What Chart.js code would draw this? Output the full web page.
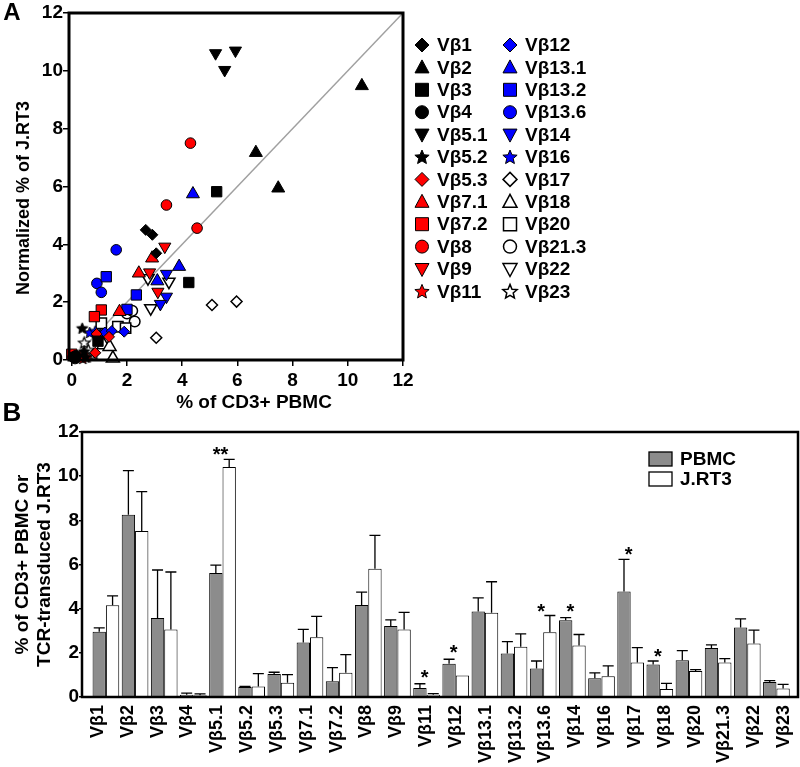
<!DOCTYPE html>
<html>
<head>
<meta charset="utf-8">
<script src="https://cdn.jsdelivr.net/npm/chart.js@4/dist/chart.umd.min.js"></script>
<style>
body { margin: 0; background: #fff; }
#wrap { position: relative; width: 800px; height: 767px; }
canvas { position: absolute; left: 0; }
#chartA { top: 0; }
#chartB { top: 400px; }
</style>
</head>
<body>
<div id="wrap">
  <canvas id="chartA" width="800" height="420"></canvas>
  <canvas id="chartB" width="800" height="367"></canvas>
</div>
<script>
const FONT = '"Liberation Sans", Arial, sans-serif';

// Vβ families, same order in the legend (A) and on the x axis (B)
const vbNames = ['Vβ1', 'Vβ2', 'Vβ3', 'Vβ4', 'Vβ5.1', 'Vβ5.2', 'Vβ5.3', 'Vβ7.1', 'Vβ7.2', 'Vβ8', 'Vβ9', 'Vβ11',
                 'Vβ12', 'Vβ13.1', 'Vβ13.2', 'Vβ13.6', 'Vβ14', 'Vβ16', 'Vβ17', 'Vβ18', 'Vβ20', 'Vβ21.3', 'Vβ22', 'Vβ23'];

// Panel A - one point per donor (x: % of CD3+ PBMC, y: normalized % of J.RT3)
const pbmcDonors = [
  [2.68, 2.92, 3.06], [10.51, 6.67, 7.48], [5.25, 4.24, 0.95], [0.05, 0.12, 0.15],
  [5.21, 5.93, 5.54], [0.38, 0.45, 0.5], [0.9, 0.85, 1.35], [2.43, 2.91, 1.73],
  [1.07, 0.82, 0.0], [4.3, 3.43, 4.54], [3.37, 2.82, 3.12], [0.3, 0.4, 0.55],
  [1.2, 1.45, 1.9], [4.39, 3.89, 3.1], [1.25, 2.34, 2.0], [1.61, 0.91, 1.07],
  [3.43, 3.43, 3.21], [0.65, 0.85, 1.05], [5.08, 5.97, 3.06], [1.49, 1.15, 1.37],
  [1.07, 1.67, 1.95], [2.0, 2.19, 2.28], [2.76, 3.52, 2.86], [0.45, 0.6, 0.8]
];
const jrt3Donors = [
  [4.5, 4.33, 3.69], [9.48, 7.17, 5.94], [5.82, 2.68, 0.65], [0.1, 0.05, 0.15],
  [10.61, 10.7, 10.03], [1.1, 0.3, 0.1], [0.9, 0.25, 0.8], [3.0, 3.52, 1.67],
  [1.73, 1.5, 0.2], [7.5, 5.36, 4.56], [3.92, 3.03, 2.36], [0.15, 0.05, 0.1],
  [0.95, 1.0, 0.98], [5.74, 3.23, 2.73], [2.88, 2.25, 1.75], [3.81, 2.65, 2.34],
  [2.98, 2.19, 1.94], [0.95, 1.0, 0.9], [1.9, 2.02, 0.77], [0.06, 0.52, 0.46],
  [1.27, 1.15, 1.1], [1.61, 1.7, 1.33], [2.83, 2.71, 1.79], [0.6, 0.35, 0.2]
];
const identityLine = [0, 12];
const axisTicks = [0, 2, 4, 6, 8, 10, 12];

// Panel B - means and SD
const pbmcMean = [2.95, 8.25, 3.58, 0.10, 5.62, 0.45, 1.04, 2.47, 0.71, 4.17, 3.22, 0.41,
                  1.51, 3.87, 1.97, 1.29, 3.48, 0.85, 4.78, 1.47, 1.66, 2.22, 3.15, 0.68];
const pbmcSd = [0.18, 2.0, 2.17, 0.08, 0.35, 0.03, 0.08, 0.59, 0.62, 0.58, 0.27, 0.19,
                0.2, 0.62, 0.54, 0.34, 0.11, 0.24, 1.45, 0.16, 0.44, 0.14, 0.39, 0.06];
const jrt3Mean = [4.16, 7.52, 3.06, 0.08, 10.42, 0.48, 0.64, 2.71, 1.10, 5.81, 3.06, 0.10,
                  0.97, 3.81, 2.27, 2.93, 2.33, 0.94, 1.56, 0.36, 1.18, 1.56, 2.42, 0.39];
const jrt3Sd = [0.42, 1.78, 2.6, 0.06, 0.34, 0.58, 0.37, 0.94, 0.82, 1.51, 0.77, 0.05,
                0, 1.41, 0.59, 0.76, 0.5, 0.47, 0.68, 0.26, 0.06, 0.18, 0.61, 0.18];
// significance marks (category index, height)
const starIdx = [4, 11, 12, 15, 16, 18, 19];
const starY = [11.2, 1.07, 2.21, 4.07, 4.09, 6.66, 2.03];
const starText = ['**', '*', '*', '*', '*', '*', '*'];

// marker styles: shape cycles, colour by group of six
const shapeCycle = ['diamond', 'triangle', 'square', 'circle', 'invtri', 'star'];
const colorGroups = ['#000000', '#ff0000', '#0000ff', '#ffffff'];

function starPath(ctx, cx, cy, R) {
  const r = R * 0.45;
  ctx.beginPath();
  for (let i = 0; i < 10; i++) {
    const a = -Math.PI / 2 + i * Math.PI / 5;
    const rad = i % 2 ? r : R;
    ctx.lineTo(cx + rad * Math.cos(a), cy + rad * Math.sin(a));
  }
  ctx.closePath();
}

function starImage(fill, R) {
  const c = document.createElement('canvas');
  c.width = c.height = Math.ceil(2 * R + 3);
  const ctx = c.getContext('2d');
  starPath(ctx, c.width / 2, c.height / 2 + 0.5, R);
  ctx.fillStyle = fill; ctx.fill();
  ctx.strokeStyle = '#000'; ctx.lineWidth = fill === '#ffffff' ? 1.2 : 1;
  ctx.stroke();
  return c;
}

// legend symbols for panel A
function drawSymbol(ctx, shape, x, y, fill) {
  ctx.beginPath();
  if (shape === 'diamond') {
    ctx.moveTo(x, y - 7); ctx.lineTo(x + 7, y); ctx.lineTo(x, y + 7); ctx.lineTo(x - 7, y); ctx.closePath();
  } else if (shape === 'triangle') {
    ctx.moveTo(x, y - 7.5); ctx.lineTo(x + 7, y + 5.5); ctx.lineTo(x - 7, y + 5.5); ctx.closePath();
  } else if (shape === 'invtri') {
    ctx.moveTo(x, y + 7.5); ctx.lineTo(x + 7, y - 5.5); ctx.lineTo(x - 7, y - 5.5); ctx.closePath();
  } else if (shape === 'square') {
    ctx.rect(x - 6.5, y - 6.5, 13, 13);
  } else if (shape === 'circle') {
    ctx.arc(x, y, 6.5, 0, Math.PI * 2);
  } else {
    starPath(ctx, x, y + 0.5, 7.5);
  }
  ctx.fillStyle = fill; ctx.fill();
  ctx.strokeStyle = '#000'; ctx.lineWidth = fill === '#ffffff' ? 1.5 : 1;
  ctx.stroke();
}

const scatterSets = vbNames.map((name, i) => {
  const shape = shapeCycle[i % 6];
  const fill = colorGroups[Math.floor(i / 6)];
  const ds = {
    label: name,
    data: pbmcDonors[i].map((x, k) => ({ x: x, y: jrt3Donors[i][k] })),
    pointBackgroundColor: fill,
    pointBorderColor: '#000',
    pointBorderWidth: fill === '#ffffff' ? 1.5 : 1,
    pointHoverRadius: 0,
    clip: false,
    _shape: shape, _fill: fill
  };
  if (shape === 'diamond') { ds.pointStyle = 'rectRot'; ds.pointRadius = 5.5; }
  if (shape === 'triangle') { ds.pointStyle = 'triangle'; ds.pointRadius = 7.5; }
  if (shape === 'invtri') { ds.pointStyle = 'triangle'; ds.pointRadius = 7; ds.pointRotation = 180; }
  if (shape === 'square') { ds.pointStyle = 'rect'; ds.pointRadius = 7.3; }
  if (shape === 'circle') { ds.pointStyle = 'circle'; ds.pointRadius = 5.3; }
  if (shape === 'star') { ds.pointStyle = starImage(fill, 6); ds.pointRadius = 6; }
  return ds;
});

const lineSet = {
  type: 'line',
  label: 'identity',
  data: identityLine.map(v => ({ x: v, y: v })),
  borderColor: '#a0a0a0',
  borderWidth: 1.5,
  pointRadius: 0,
  order: 99
};

const panelA = {
  id: 'panelA',
  afterDraw(chart) {
    const ctx = chart.ctx, a = chart.chartArea;
    ctx.save();
    ctx.strokeStyle = '#000'; ctx.lineWidth = 3;
    ctx.strokeRect(a.left, a.top, a.right - a.left, a.bottom - a.top);

    ctx.fillStyle = '#000';
    ctx.textAlign = 'center'; ctx.textBaseline = 'middle';
    ctx.font = 'bold 24px ' + FONT;
    ctx.fillText('A', 12, 13);
    ctx.font = 'bold 19px ' + FONT;
    ctx.fillText('% of CD3+ PBMC', a.left + 185, a.bottom + 43);
    ctx.save();
    ctx.translate(24, a.top + 185);
    ctx.rotate(-Math.PI / 2);
    ctx.font = 'bold 18px ' + FONT;
    ctx.fillText('Normalized % of J.RT3', 0, 0);
    ctx.restore();

    // two-column legend
    ctx.font = 'bold 19px ' + FONT;
    ctx.textAlign = 'left';
    chart.data.datasets.forEach((ds, i) => {
      if (!ds._shape) return;
      const col = i < 12 ? 0 : 1, row = i % 12;
      const sx = a.right + 19 + col * 88;
      const sy = a.top + 32 + row * 22.4;
      drawSymbol(ctx, ds._shape, sx, sy, ds._fill);
      ctx.fillStyle = '#000';
      ctx.fillText(ds.label, sx + 15, sy + 1);
    });
    ctx.restore();
  }
};

new Chart(document.getElementById('chartA'), {
  type: 'scatter',
  data: { datasets: scatterSets.concat([lineSet]) },
  options: {
    responsive: false,
    animation: false,
    events: [],
    layout: { padding: { top: 13, right: 397, left: 0, bottom: 0 } },
    plugins: { legend: { display: false }, tooltip: { enabled: false } },
    scales: {
      x: {
        type: 'linear', min: -0.1, max: 12,
        afterBuildTicks: s => { s.ticks = axisTicks.map(v => ({ value: v })); },
        ticks: { color: '#000', font: { family: FONT, size: 19, weight: 'bold' }, padding: 3, maxRotation: 0 },
        grid: { drawOnChartArea: false, color: '#000', lineWidth: 1.5, tickLength: 6 },
        border: { display: false },
        afterFit: s => { s.height = 60; }
      },
      y: {
        type: 'linear', min: 0, max: 12,
        afterBuildTicks: s => { s.ticks = axisTicks.map(v => ({ value: v })); },
        ticks: { color: '#000', font: { family: FONT, size: 19, weight: 'bold' }, padding: 0 },
        grid: { drawOnChartArea: false, color: '#000', lineWidth: 1.5, tickLength: 6 },
        border: { display: false },
        afterFit: s => { s.width = 69; }
      }
    }
  },
  plugins: [panelA]
});

// Panel B
const panelB = {
  id: 'panelB',
  afterDatasetsDraw(chart) {
    const ctx = chart.ctx, y = chart.scales.y;
    const means = [pbmcMean, jrt3Mean], sds = [pbmcSd, jrt3Sd];
    ctx.save();
    ctx.strokeStyle = '#000'; ctx.lineWidth = 1.3;
    chart.data.datasets.forEach((ds, d) => {
      chart.getDatasetMeta(d).data.forEach((bar, i) => {
        if (!sds[d][i]) return;
        const top = y.getPixelForValue(means[d][i] + sds[d][i]);
        ctx.beginPath();
        ctx.moveTo(bar.x, bar.y); ctx.lineTo(bar.x, top);
        ctx.moveTo(bar.x - 5.5, top); ctx.lineTo(bar.x + 5.5, top);
        ctx.stroke();
      });
    });
    ctx.restore();
  },
  afterDraw(chart) {
    const ctx = chart.ctx, a = chart.chartArea;
    const x = chart.scales.x, y = chart.scales.y, xl = chart.scales.xl;
    ctx.save();
    ctx.strokeStyle = '#000'; ctx.lineWidth = 2.5;
    ctx.strokeRect(a.left, a.top, a.right - a.left, a.bottom - a.top);

    ctx.fillStyle = '#000';
    ctx.textAlign = 'center'; ctx.textBaseline = 'middle';
    ctx.font = 'bold 26px ' + FONT;
    ctx.fillText('B', 12, 14);

    // category labels, reading upward
    ctx.font = 'bold 18px ' + FONT;
    ctx.textAlign = 'right';
    xl.getLabels().forEach((lab, i) => {
      ctx.save();
      ctx.translate(xl.getPixelForValue(i) + 1, a.bottom + 8);
      ctx.rotate(-Math.PI / 2);
      ctx.fillText(lab, 0, 0);
      ctx.restore();
    });

    // significance
    ctx.textAlign = 'center';
    ctx.textBaseline = 'alphabetic';
    ctx.font = 'bold 20px ' + FONT;
    starIdx.forEach((idx, k) => {
      ctx.fillText(starText[k], x.getPixelForValue(idx) - 2, y.getPixelForValue(starY[k]) + 11);
    });

    // legend
    ctx.textAlign = 'left'; ctx.textBaseline = 'middle';
    ctx.font = 'bold 19px ' + FONT;
    chart.data.datasets.forEach((ds, d) => {
      const bx = a.right - 149, by = a.top + 20 + d * 20;
      ctx.fillStyle = ds.backgroundColor;
      ctx.fillRect(bx, by, 23, 14);
      ctx.lineWidth = 1.3;
      ctx.strokeRect(bx, by, 23, 14);
      ctx.fillStyle = '#000';
      ctx.fillText(ds.label, bx + 31, by + 8);
    });
    ctx.restore();
  }
};

new Chart(document.getElementById('chartB'), {
  type: 'bar',
  data: {
    datasets: [
      {
        label: 'PBMC',
        data: pbmcMean.map((v, i) => ({ x: i, y: v })),
        backgroundColor: '#8c8c8c', borderColor: '#000', borderWidth: 1,
        categoryPercentage: 0.915, barPercentage: 1
      },
      {
        label: 'J.RT3',
        data: jrt3Mean.map((v, i) => ({ x: i, y: v })),
        backgroundColor: '#ffffff', borderColor: '#000', borderWidth: 1,
        categoryPercentage: 0.915, barPercentage: 1
      }
    ]
  },
  options: {
    responsive: false,
    animation: false,
    events: [],
    layout: { padding: { top: 32, right: 2, left: 0, bottom: 0 } },
    plugins: { legend: { display: false }, tooltip: { enabled: false } },
    scales: {
      x: { type: 'linear', display: false, min: -0.82, max: 23.74, offset: false },
      // label axis with its own spacing; labels drawn rotated by the plugin
      xl: {
        type: 'category', axis: 'x', position: 'bottom', labels: vbNames, offset: true,
        ticks: { display: false },
        grid: { display: false, drawTicks: false },
        border: { display: false },
        afterFit: s => { s.height = 70; }
      },
      y: {
        min: 0, max: 12,
        ticks: { stepSize: 2, padding: 0, color: '#000', font: { family: FONT, size: 19, weight: 'bold' } },
        grid: { drawOnChartArea: false, color: '#000', lineWidth: 1.5, tickLength: 3 },
        border: { display: false },
        title: {
          display: true,
          text: ['% of CD3+ PBMC or', 'TCR-transduced J.RT3'],
          color: '#000',
          font: { family: FONT, size: 19, weight: 'bold' },
          padding: { top: 11, bottom: 0 }
        },
        afterFit: s => { s.width = 82; }
      }
    }
  },
  plugins: [panelB]
});
</script>
</body>
</html>
